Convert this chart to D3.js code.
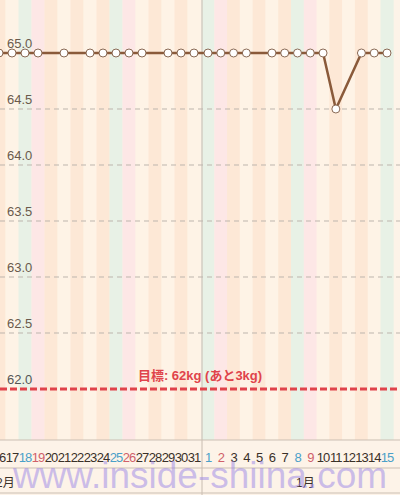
<!DOCTYPE html>
<html><head><meta charset="utf-8">
<script src="https://cdn.jsdelivr.net/npm/d3@7"></script>
<style>body{margin:0;background:#fdf3e8;font-family:"Liberation Sans","Noto Sans CJK JP",sans-serif}</style>
</head><body><div id="chart"></div>
<script>
const days = ["16","17","18","19","20","21","22","23","24","25","26","27","28","29","30","31",
  "1","2","3","4","5","6","7","8","9","10","11","12","13","14","15"];
// 0 weekday, 1 Saturday, 2 Sunday
const dayKind = [0,0,1,2,0,0,0,0,0,1,2,0,0,0,0,0, 1,2,0,0,0,0,0,1,2,0,0,0,0,0,1];
const weights = [65.0,65.0,65.0,65.0,null,65.0,null,65.0,65.0,65.0,65.0,65.0,null,65.0,65.0,65.0,
  65.0,65.0,65.0,65.0,null,65.0,65.0,65.0,65.0,65.0,64.5,null,65.0,65.0,65.0];
const yTicks = [65.0,64.5,64.0,63.5,63.0,62.5,62.0];
const goal = 62.0;
const goalLabel = "目標: 62kg (あと3kg)";
const months = [{label:"2月", at:0},{label:"1月", at:16}];

const W = 400, H = 495;
const svg = d3.select("#chart").append("svg").attr("width", W).attr("height", H);

const x = d3.scaleLinear().domain([0,15,16,30]).range([-1,194,208,387]);
const y = d3.scaleLinear().domain([62,65]).range([389,53]);
const plotBottom = 440;

const stripeColor = (k,i) => k===1 ? "#e8f1e6" : k===2 ? "#fde7e6" : (i%2 ? "#fef3e6" : "#fde8d6");
svg.append("g").selectAll("rect").data(days).join("rect")
  .attr("x", (d,i) => x(i) - 6.5).attr("y", 0).attr("width", 13.2).attr("height", plotBottom)
  .attr("fill", (d,i) => stripeColor(dayKind[i], i));

// month divider
svg.append("line").attr("x1", 202).attr("x2", 202).attr("y1", 0).attr("y2", H)
  .attr("stroke", "#c8bcb0").attr("stroke-width", 1);

// grid
const grid = svg.append("g");
yTicks.filter(t => t !== goal && t !== 65).forEach(t => {
  grid.append("line").attr("x1",0).attr("x2",W).attr("y1",y(t)).attr("y2",y(t))
    .attr("stroke","#bdb5ad").attr("stroke-dasharray","5,4");
});
yTicks.forEach(t => {
  grid.append("text").attr("x", 7).attr("y", y(t) - 5).text(t.toFixed(1))
    .attr("font-size", 13).attr("fill", t===goal ? "#555" : "#6b5a4c");
});

// goal
svg.append("line").attr("x1",0).attr("x2",W).attr("y1",y(goal)).attr("y2",y(goal))
  .attr("stroke","#e0434b").attr("stroke-width",3).attr("stroke-dasharray","7,3");
svg.append("text").attr("x", 200).attr("y", y(goal) - 9).attr("text-anchor","middle")
  .attr("font-size", 13).attr("font-weight","bold").attr("fill","#e0434b").text(goalLabel);

// line
const pts = weights.map((v,i) => ({i, v})).filter(d => d.v !== null);
svg.append("path").datum(pts)
  .attr("d", d3.line().x(d => x(d.i)).y(d => y(d.v)))
  .attr("fill","none").attr("stroke","#8a5a3a").attr("stroke-width",2.5);
svg.append("g").selectAll("circle").data(pts).join("circle")
  .attr("cx", d => x(d.i)).attr("cy", d => y(d.v)).attr("r", 4)
  .attr("fill","#fff").attr("stroke","#8a6a55").attr("stroke-width",1);

// bottom axis
[plotBottom, 468, 493].forEach(yy => svg.append("line").attr("x1",0).attr("x2",W)
  .attr("y1",yy).attr("y2",yy).attr("stroke","#cbbfb3"));
svg.append("g").selectAll("text").data(days).join("text")
  .attr("x", (d,i) => x(i)).attr("y", 462).attr("text-anchor","middle")
  .attr("font-size", 13).attr("letter-spacing", -1)
  .attr("fill", (d,i) => dayKind[i]===1 ? "#4aa0c8" : dayKind[i]===2 ? "#d0606a" : "#3a3028")
  .text(d => d);
svg.append("g").selectAll("text").data(months).join("text")
  .attr("x", d => d.at === 0 ? -4 : x(d.at) + 88).attr("y", 487)
  .attr("font-size", 12).attr("fill","#3a3028").text(d => d.label);

// watermark
svg.append("text").attr("x", 200).attr("y", 488).attr("text-anchor","middle")
  .attr("font-family","Liberation Sans, Arial, sans-serif").attr("font-size", 37)
  .attr("fill","#9a86e6").attr("fill-opacity",0.5).text("www.inside-shiina.com");
</script></body></html>
